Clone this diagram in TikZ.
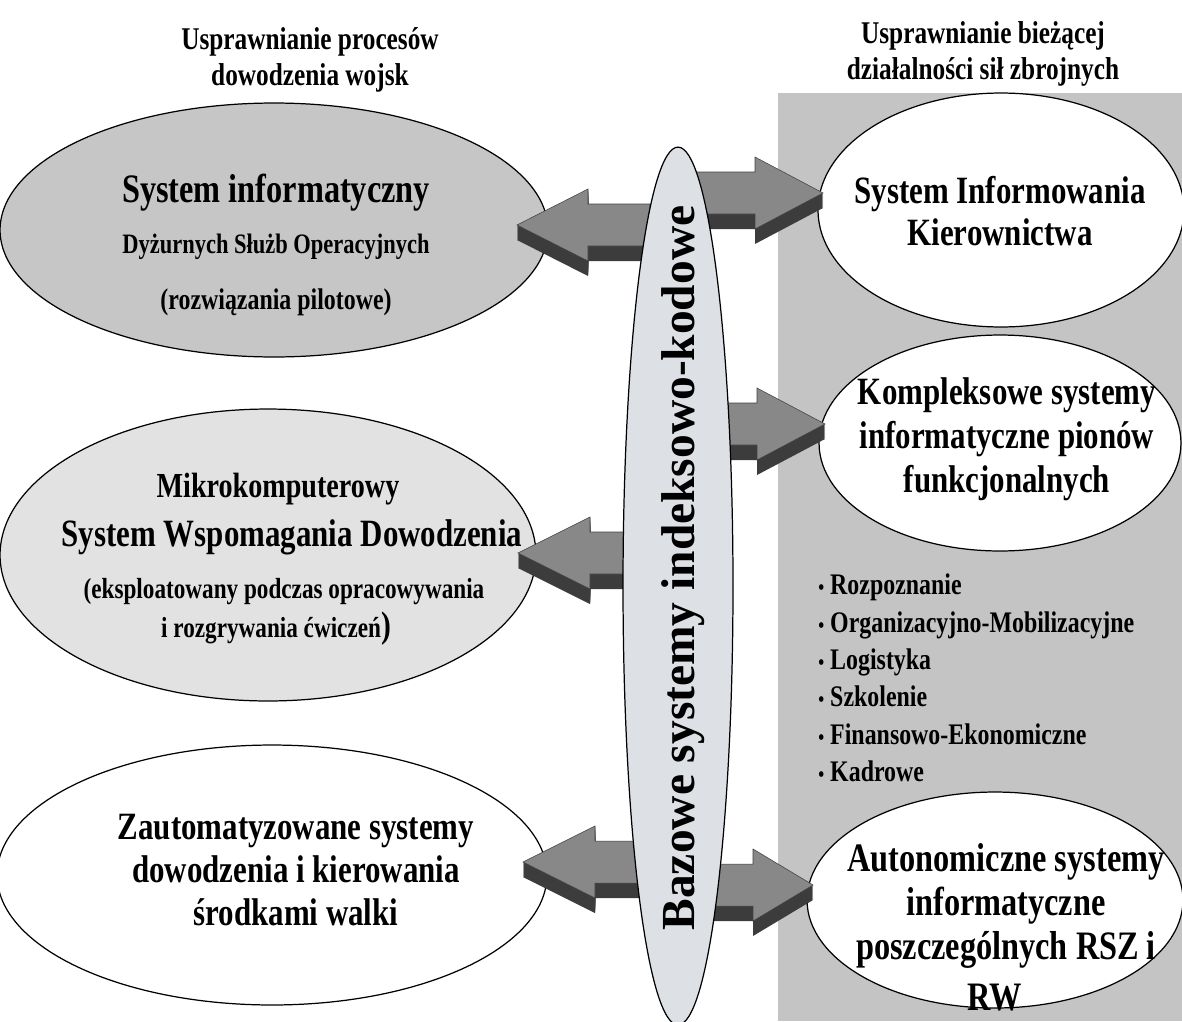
\documentclass[tikz,border=0pt]{standalone}
\usepackage{fontspec}
\setmainfont{Liberation Serif}
\newfontfamily\cond{Liberation Serif}[FakeStretch=0.8]
\usetikzlibrary{shapes.geometric}
\definecolor{panelgray}{HTML}{C4C4C4}
\definecolor{darkoval}{HTML}{C6C6C6}
\definecolor{lightoval}{HTML}{E2E2E2}
\definecolor{baseoval}{HTML}{DDE1E6}
\definecolor{arrowtop}{HTML}{888888}
\definecolor{arrowdark}{HTML}{3C3C3C}
\tikzset{
	oval/.style={ellipse, draw=black, line width=0.7pt, inner sep=0pt},
	txt/.style={align=center, inner sep=0pt},
	arrowside/.style={fill=arrowdark},
	arrowface/.style={fill=arrowtop, draw=black!75, line width=0.3pt}
}
\def\blockarrow(#1,#2,#3,#4){%
	\foreach \d in {1,...,15}
		\fill[arrowside] (#1,#4-21+\d) -- (#2,#4-21+\d) -- (#2,#4-36+\d) -- (#3,#4+\d) -- (#2,#4+36+\d) -- (#2,#4+21+\d) -- (#1,#4+21+\d) -- cycle;
	\draw[arrowface] (#1,#4-21) -- (#2,#4-21) -- (#2,#4-36) -- (#3,#4) -- (#2,#4+36) -- (#2,#4+21) -- (#1,#4+21) -- cycle;
}
\newcommand{\bul}{{\fontsize{12}{12}\selectfont•}\ }
\begin{document}
\begin{tikzpicture}[x=0.02cm, y=-0.02cm]
		%%%%% START %%%%%
		\useasboundingbox (0,0) rectangle (1182,1021);
		
		\fill[panelgray] (778,93) rectangle (1182,1021);
		
		\node[txt, font=\cond\bfseries\fontsize{18}{20.5}\selectfont] (lefttitle) at (310,60) {Usprawnianie procesów\\dowodzenia wojsk};
		\node[txt, font=\cond\bfseries\fontsize{18}{20.5}\selectfont] (righttitle) at (983,54) {Usprawnianie bieżącej\\działalności sił zbrojnych};
		
		% left side
		\node[oval, fill=darkoval, minimum width=10.96cm, minimum height=5.08cm] (dso) at (274,230) {};
		\node[txt, font=\cond\bfseries\fontsize{23}{26}\selectfont] (dso1) at (276,193) {System informatyczny};
		\node[txt, font=\cond\bfseries\fontsize{16}{18}\selectfont] (dso2) at (276,247) {Dyżurnych Służb Operacyjnych};
		\node[txt, font=\cond\bfseries\fontsize{17}{19}\selectfont] (dso3) at (276,302) {(rozwiązania pilotowe)};
		
		\node[oval, fill=lightoval, minimum width=10.72cm, minimum height=5.84cm] (mswd) at (268,555) {};
		\node[txt, font=\cond\bfseries\fontsize{20}{24}\selectfont] (mswd1) at (278,489) {Mikrokomputerowy};
		\node[txt, font=\cond\bfseries\fontsize{22}{24}\selectfont] (mswd2) at (292,537) {System Wspomagania Dowodzenia};
		\node[txt, font=\cond\bfseries\fontsize{16.5}{18}\selectfont] (mswd3) at (284,592) {(eksploatowany podczas opracowywania};
		\node[txt, font=\cond\bfseries\fontsize{16.5}{18}\selectfont] (mswd4) at (276,629) {i rozgrywania ćwiczeń\fontsize{21}{21}\selectfont)};
		
		\node[oval, fill=white, minimum width=11cm, minimum height=5.2cm] (zsd) at (272,875) {};
		\node[txt, font=\cond\bfseries\fontsize{22}{24.5}\selectfont] (zsdt) at (296,870) {Zautomatyzowane systemy\\dowodzenia i kierowania\\środkami walki};
		
		% right side
		\node[oval, fill=white, minimum width=7.32cm, minimum height=4.68cm] (sik) at (1001,210) {};
		\node[txt, font=\cond\bfseries\fontsize{22}{24}\selectfont] (sikt) at (1000,211) {System Informowania\\Kierownictwa};
		
		\node[oval, fill=white, minimum width=7.24cm, minimum height=4.32cm] (ksi) at (1000,443) {};
		\node[txt, font=\cond\bfseries\fontsize{22}{25}\selectfont] (ksit) at (1007,439) {Kompleksowe systemy\\informatyczne pionów\\funkcjonalnych};
		
		\node[txt, anchor=west, align=left, font=\cond\bfseries\fontsize{17}{21.3}\selectfont] (piony) at (818,678) {\bul Rozpoznanie\\\bul Organizacyjno-Mobilizacyjne\\\bul Logistyka\\\bul Szkolenie\\\bul Finansowo-Ekonomiczne\\\bul Kadrowe};
		
		\node[oval, fill=white, minimum width=7.52cm, minimum height=4.32cm] (asi) at (995,900) {};
		\node[txt, font=\cond\bfseries\fontsize{23}{25}\selectfont] (asit) at (1006,906) {Autonomiczne systemy\\informatyczne\\poszczególnych RSZ i};
		\node[txt, font=\cond\bfseries\fontsize{23}{25}\selectfont] (asirw) at (995,998) {RW};
		
		% arrows
		\blockarrow(650,588,517,225)
		\blockarrow(690,755,823,193)
		\blockarrow(705,757,825,424)
		\blockarrow(630,590,518,553)
		\blockarrow(640,595,523,862)
		\blockarrow(690,753,813,885)
		
		% base systems
		\node[oval, fill=baseoval, minimum width=2.2cm, minimum height=17.56cm] (baza) at (678,586) {};
		\node[font=\bfseries\fontsize{27}{30}\selectfont, rotate=90, inner sep=0pt] (bazat) at (683,568) {Bazowe systemy indeksowo-kodowe};
		
		%%%%% END %%%%%
	\end{tikzpicture}
\end{document}
